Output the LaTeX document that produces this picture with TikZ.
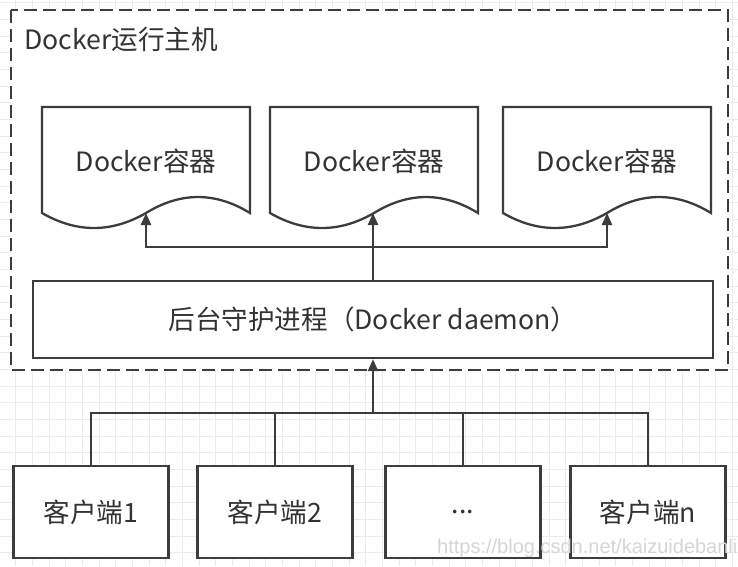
\documentclass[tikz,border=0pt]{standalone}
\usepackage{fontspec}
\setmainfont{Noto Sans CJK SC}
\newfontfamily\wmfont{Liberation Sans}
\usetikzlibrary{arrows.meta}
\definecolor{lncol}{HTML}{3C3C3C}
\definecolor{txcol}{HTML}{333333}
\definecolor{gridcol}{HTML}{EBEBEB}
\definecolor{wmcol}{HTML}{D6D6D6}
\tikzset{
  conn/.style={draw=lncol, line width=2.3pt},
  arr/.style={conn, -{Triangle[length=12pt,width=10pt]}},
  boxstyle/.style={draw=lncol, line width=2.3pt, fill=white, rectangle, inner sep=0pt,
    minimum width=155pt, minimum height=92pt, text=txcol, font=\fontsize{26.6}{31}\selectfont},
  lbl/.style={text=txcol, inner sep=0pt, font=\fontsize{26.6}{31}\selectfont},
  docshape/.style={draw=lncol, line width=2.3pt, fill=white},
  hoststyle/.style={draw=lncol, line width=2.3pt, fill=white, dash pattern=on 13pt off 6pt},
  gridline/.style={draw=gridcol, line width=0.8pt},
}
\begin{document}
\begin{tikzpicture}[x=1pt,y=-1pt]
\useasboundingbox (0,0) rectangle (738,566);
\begin{scope}
\clip (0,0) rectangle (738,566);
% background grid
\foreach \k in {1,...,44} {\draw[gridline] ({-1+16.667*\k},0) -- ({-1+16.667*\k},566);}
\foreach \k in {0,...,34} {\draw[gridline] (0,{2.7+16.667*\k}) -- (738,{2.7+16.667*\k});}
\end{scope}

% host container
\draw[hoststyle] (11,10) rectangle (728,370);
\node[lbl, anchor=west] (title) at (24,39) {Docker运行主机};

% containers (document shapes)
\draw[docshape] (42,107) -- (250,107) -- (250,213) .. controls (215.33,191.7) and (180.67,191.7) .. (146,213)
  .. controls (111.33,233) and (76.67,233) .. (42,213) -- cycle;
\draw[docshape] (270,107) -- (478,107) -- (478,213) .. controls (443.33,191.7) and (408.67,191.7) .. (374,213)
  .. controls (339.33,233) and (304.67,233) .. (270,213) -- cycle;
\draw[docshape] (503,107) -- (711,107) -- (711,213) .. controls (676.33,191.7) and (641.67,191.7) .. (607,213)
  .. controls (572.33,233) and (537.67,233) .. (503,213) -- cycle;
\node[lbl] (c1) at (146,161) {Docker容器};
\node[lbl] (c2) at (374,161) {Docker容器};
\node[lbl] (c3) at (607,161) {Docker容器};
\coordinate (c1b) at (146,213);
\coordinate (c2b) at (373,213);
\coordinate (c3b) at (607,213);

% daemon
\node[boxstyle, minimum width=680pt, minimum height=77pt] (d) at (373,319.5) {后台守护进程（Docker daemon）};

% clients
\node[boxstyle] (k1) at (91,512) {客户端1};
\node[boxstyle] (k2) at (275,512) {客户端2};
\node[boxstyle] (k3) at (463,512) {...};
\node[boxstyle] (k4) at (648,512) {客户端n};

% connectors daemon -> containers
\coordinate (t) at (373,247);
\draw[conn] (d.north) -- (t);
\draw[arr] (t) -| (c1b);
\draw[arr] (t) -- (c2b);
\draw[arr] (t) -| (c3b);

% connectors clients -> daemon
\coordinate (j) at (373,413);
\draw[conn] (k1.north) |- (j);
\draw[conn] (k2.north) |- (j);
\draw[conn] (k3.north) |- (j);
\draw[conn] (k4.north) |- (j);
\draw[arr] (j) -- (d.south);

% watermark
\begin{scope}
\clip (0,0) rectangle (738,566);
\node[anchor=west, text=wmcol, inner sep=0pt, font=\wmfont\fontsize{20}{23}\selectfont] (wm) at (437,548) {https://blog.csdn.net/kaizuidebanli};
\end{scope}
\end{tikzpicture}
\end{document}
